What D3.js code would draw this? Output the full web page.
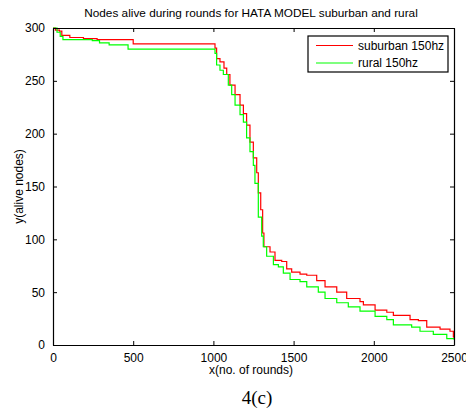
<!DOCTYPE html>
<html>
<head>
<meta charset="utf-8">
<script src="https://cdn.jsdelivr.net/npm/d3@7"></script>
<style>
  body { margin: 0; background: #fff; }
  svg { display: block; }
</style>
</head>
<body>
<div id="chart"></div>
<script>
// Dimensions
const width = 466;
const height = 413;
const margin = { top: 28, right: 12, bottom: 68, left: 53 };

// Data
const xTicks = [0, 500, 1000, 1500, 2000, 2500];
const yTicks = [0, 50, 100, 150, 200, 250, 300];

const suburbanRounds = [0, 15, 40, 55, 105, 190, 275, 480, 500, 995, 1010, 1020, 1041, 1066, 1083, 1103, 1135, 1166, 1187, 1207, 1228, 1249, 1270, 1280, 1295, 1307, 1315, 1353, 1384, 1426, 1457, 1488, 1540, 1582, 1644, 1696, 1769, 1831, 1914, 1935, 2008, 2081, 2122, 2226, 2278, 2330, 2413, 2475, 2496, 2500];
const suburbanAlive = [300, 298, 297, 293, 291, 290, 289, 289, 285, 285, 281, 271, 268, 262, 256, 246, 237, 227, 219, 208, 192, 177, 163, 144, 128, 106, 93, 88, 80, 79, 72, 69, 67, 66, 61, 55, 50, 44, 41, 38, 33, 31, 28, 24, 23, 17, 15, 13, 8, 6];

const ruralRounds = [0, 25, 45, 62, 245, 290, 350, 468, 989, 1010, 1020, 1041, 1062, 1093, 1114, 1135, 1166, 1187, 1207, 1228, 1249, 1259, 1280, 1301, 1311, 1332, 1374, 1405, 1436, 1478, 1540, 1582, 1654, 1696, 1769, 1841, 1914, 2008, 2081, 2122, 2236, 2288, 2371, 2455, 2500];
const ruralAlive = [300, 296, 292, 289, 288, 286, 284, 280, 280, 276, 265, 260, 256, 246, 237, 227, 218, 211, 196, 183, 170, 153, 121, 103, 93, 84, 76, 74, 68, 62, 60, 55, 50, 44, 40, 36, 32, 27, 24, 19, 17, 13, 10, 6, 5];

const series = [
  { name: "suburban 150hz", color: "#ff0000", x: suburbanRounds, y: suburbanAlive },
  { name: "rural 150hz", color: "#00ff00", x: ruralRounds, y: ruralAlive }
];

const svg = d3.select("#chart")
  .append("svg")
  .attr("width", width)
  .attr("height", height);

const x = d3.scaleLinear()
  .domain([0, 2500])
  .range([margin.left, width - margin.right]);

const y = d3.scaleLinear()
  .domain([0, 300])
  .range([height - margin.bottom, margin.top]);

const font = "Liberation Sans, Arial, sans-serif";

// Lines (step shaped)
const line = d3.line()
  .x(d => x(d[0]))
  .y(d => y(d[1]))
  .curve(d3.curveStepAfter);

series.forEach(s => {
  svg.append("path")
    .datum(s.x.map((r, i) => [r, s.y[i]]))
    .attr("d", line)
    .attr("fill", "none")
    .attr("stroke", s.color)
    .attr("stroke-width", 1.2);
});

// Axes (ticks inside, box on all sides)
const tickLen = 4;
const fmt = d3.format("d");
const bottomAxis = d3.axisBottom(x).tickValues(xTicks).tickFormat(fmt).tickSizeInner(-tickLen).tickSizeOuter(0).tickPadding(8);
const topAxis = d3.axisTop(x).tickValues(xTicks).tickSizeInner(-tickLen).tickSizeOuter(0).tickFormat("");
const leftAxis = d3.axisLeft(y).tickValues(yTicks).tickFormat(fmt).tickSizeInner(-tickLen).tickSizeOuter(0).tickPadding(8);
const rightAxis = d3.axisRight(y).tickValues(yTicks).tickSizeInner(-tickLen).tickSizeOuter(0).tickFormat("");

function styleAxis(g) {
  g.select(".domain").attr("stroke", "#000").attr("stroke-width", 1.2);
  g.selectAll(".tick line").attr("stroke", "#000");
  g.selectAll("text")
    .attr("fill", "#000")
    .style("font-family", font)
    .style("font-size", "12px");
}

svg.append("g").attr("transform", `translate(0,${y(0)})`).call(bottomAxis).call(styleAxis);
svg.append("g").attr("transform", `translate(0,${y(300)})`).call(topAxis).call(styleAxis);
svg.append("g").attr("transform", `translate(${x(0)},0)`).call(leftAxis).call(styleAxis);
svg.append("g").attr("transform", `translate(${x(2500)},0)`).call(rightAxis).call(styleAxis);

// Title
svg.append("text")
  .attr("x", 251)
  .attr("y", 17)
  .attr("text-anchor", "middle")
  .style("font-family", font)
  .style("font-size", "11.8px")
  .text("Nodes alive during rounds for HATA MODEL suburban and rural");

// Axis labels
svg.append("text")
  .attr("x", 251)
  .attr("y", 374)
  .attr("text-anchor", "middle")
  .style("font-family", font)
  .style("font-size", "12px")
  .text("x(no. of rounds)");

svg.append("text")
  .attr("transform", `translate(23,${(y(0) + y(300)) / 2}) rotate(-90)`)
  .attr("text-anchor", "middle")
  .style("font-family", font)
  .style("font-size", "12px")
  .text("y(alive nodes)");

// Figure caption
svg.append("text")
  .attr("x", 257)
  .attr("y", 404)
  .attr("text-anchor", "middle")
  .style("font-family", "Liberation Serif, Times New Roman, serif")
  .style("font-size", "19px")
  .text("4(c)");

// Legend
const legend = svg.append("g").attr("transform", "translate(308,36)");
legend.append("rect")
  .attr("width", 140)
  .attr("height", 36)
  .attr("fill", "#fff")
  .attr("stroke", "#000")
  .attr("stroke-width", 1.2);

series.forEach((s, i) => {
  const ly = 9.5 + i * 17.5;
  legend.append("line")
    .attr("x1", 8).attr("x2", 45)
    .attr("y1", ly).attr("y2", ly)
    .attr("stroke", s.color)
    .attr("stroke-width", 1.2);
  legend.append("text")
    .attr("x", 50)
    .attr("y", ly + 4)
    .style("font-family", font)
    .style("font-size", "12px")
    .text(s.name);
});
</script>
</body>
</html>
